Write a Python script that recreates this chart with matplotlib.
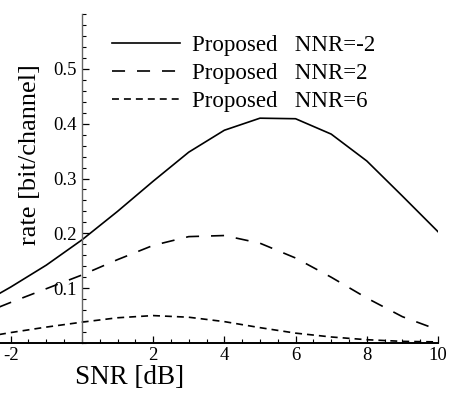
import matplotlib
matplotlib.use("Agg")
import matplotlib.pyplot as plt
from matplotlib.ticker import MultipleLocator, FixedLocator

plt.rcParams['font.family'] = ['Liberation Serif', 'DejaVu Serif']
plt.rcParams['lines.scale_dashes'] = False

# SNR grid (dB) and rates (bit/channel)
snr = [-3, -2, -1, 0, 1, 2, 3, 4, 5, 6, 7, 8, 9, 10]
rate_nnr_m2 = [0.065, 0.102, 0.142, 0.188, 0.240, 0.295, 0.348, 0.388,
               0.410, 0.409, 0.381, 0.332, 0.268, 0.203]
rate_nnr_2 = [0.048, 0.074, 0.099, 0.124, 0.152, 0.178, 0.194, 0.196,
              0.182, 0.155, 0.120, 0.082, 0.048, 0.024]
rate_nnr_6 = [0.008, 0.019, 0.029, 0.038, 0.046, 0.050, 0.047, 0.039,
              0.028, 0.018, 0.011, 0.006, 0.003, 0.002]

labels = ["Proposed   NNR=-2", "Proposed   NNR=2", "Proposed   NNR=6"]
x_ticks = [-2, 2, 4, 6, 8, 10]
y_ticks = [0.1, 0.2, 0.3, 0.4, 0.5]

fig = plt.figure(figsize=(4.53, 3.95), dpi=100)
ax = fig.add_axes([0.0, 52 / 395, 438 / 453, (343 - 14) / 395])

lw = 1.2
ax.plot(snr, rate_nnr_m2, color='black', lw=lw, label=labels[0])
ax.plot(snr, rate_nnr_2, color='black', lw=lw, dashes=(9.4, 8.6), label=labels[1])
ax.plot(snr, rate_nnr_6, color='black', lw=lw, dashes=(5.0, 3.6), label=labels[2])

ax.set_xlim(-2.3, 10)
ax.set_ylim(0, 0.6)

ax.spines['top'].set_visible(False)
ax.spines['right'].set_visible(False)
ax.spines['left'].set_position(('data', 0))
ax.spines['left'].set_color('#666666')
ax.spines['left'].set_linewidth(1.0)
ax.spines['bottom'].set_linewidth(1.4)

ax.xaxis.set_major_locator(FixedLocator(x_ticks))
ax.xaxis.set_minor_locator(MultipleLocator(0.5))
ax.yaxis.set_major_locator(FixedLocator(y_ticks))
ax.yaxis.set_minor_locator(MultipleLocator(0.02))
ax.set_xticklabels([str(v) for v in x_ticks])
ax.set_yticklabels([f"{v:.1f}" for v in y_ticks])

ax.tick_params(axis='both', which='major', direction='in', length=5, width=0.9,
               labelsize=13.5, color='black')
ax.tick_params(axis='both', which='minor', direction='in', length=3, width=0.8,
               color='black')
ax.tick_params(axis='x', which='major', pad=3)
ax.tick_params(axis='y', which='major', pad=4)

ax.patch.set_alpha(0)

leg = ax.legend(loc='upper left', bbox_to_anchor=(112 / 438, 1.0 - 21 / 329),
                frameon=False, fontsize=16.5, handlelength=2.95,
                handletextpad=0.55, labelspacing=0.3, borderpad=0,
                borderaxespad=0)

fig.text(30 / 453, (395 - 155) / 395, "rate [bit/channel]", rotation=90,
         ha='center', va='center', fontsize=19)
fig.text(130 / 453, (395 - 378) / 395, "SNR [dB]", ha='center', va='center',
         fontsize=19.5)

fig.savefig("out.png", dpi=100)
